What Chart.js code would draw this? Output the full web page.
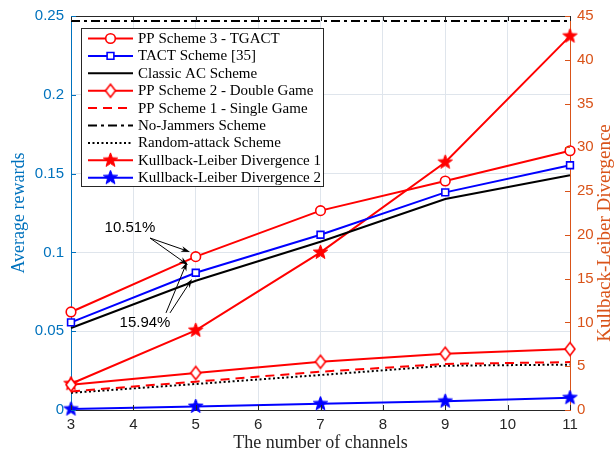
<!DOCTYPE html>
<html lang="en">
<head>
<meta charset="UTF-8">
<title>Average rewards vs number of channels</title>
<script src="https://cdn.jsdelivr.net/npm/chart.js@4.4.1/dist/chart.umd.min.js"></script>
<style>
  html, body { margin: 0; padding: 0; background: #fff; }
</style>
</head>
<body>
<canvas id="chart" width="614" height="454"></canvas>
<script>
// ---- data ----
const channels = [3, 5, 7, 9, 11];
const ppScheme3 = [0.0622, 0.0973, 0.1265, 0.1453, 0.1645];
const tactScheme = [0.0556, 0.0871, 0.1112, 0.1381, 0.1553];
const classicAC = [0.0520, 0.0820, 0.1068, 0.1339, 0.1490];
const ppScheme2 = [0.0160, 0.0235, 0.0306, 0.0357, 0.0387];
const ppScheme1 = [0.0118, 0.0180, 0.0243, 0.0292, 0.0304];
const noJammers = [0.2468, 0.2468, 0.2468, 0.2468, 0.2468];
const randomAttack = [0.0109, 0.0165, 0.0222, 0.0281, 0.0288];
const klDiv1 = [3.0, 9.1, 18.0, 28.3, 42.7];
const klDiv2 = [0.1, 0.4, 0.7, 1.0, 1.4];

const xTicks = [3, 4, 5, 6, 7, 8, 9, 10, 11];

const LEFT_COLOR = 'rgb(0,114,189)';
const RIGHT_COLOR = 'rgb(217,83,25)';
const SERIF = '"Liberation Serif", "DejaVu Serif", serif';
const SANS = '"Liberation Sans", Arial, sans-serif';

function pts(ys) {
  return channels.map((x, i) => ({ x: x, y: ys[i] }));
}

// filled pentagram marker (MATLAB 'p')
function starMarker(color, r) {
  const c = document.createElement('canvas');
  const s = Math.ceil(r * 2 + 2);
  c.width = s; c.height = s;
  const g = c.getContext('2d');
  const cx = s / 2, cy = s / 2, ri = r * 0.42;
  g.beginPath();
  for (let i = 0; i < 10; i++) {
    const rr = i % 2 === 0 ? r : ri;
    const a = -Math.PI / 2 + i * Math.PI / 5;
    const px = cx + rr * Math.cos(a), py = cy + rr * Math.sin(a);
    if (i === 0) g.moveTo(px, py); else g.lineTo(px, py);
  }
  g.closePath();
  g.fillStyle = color;
  g.fill();
  g.strokeStyle = color;
  g.lineWidth = 1;
  g.stroke();
  return c;
}

// hollow diamond marker (MATLAB 'd')
function diamondMarker(color, w, h) {
  const c = document.createElement('canvas');
  c.width = w + 4; c.height = h + 4;
  const g = c.getContext('2d');
  const cx = c.width / 2, cy = c.height / 2;
  g.beginPath();
  g.moveTo(cx, cy - h / 2);
  g.lineTo(cx + w / 2, cy);
  g.lineTo(cx, cy + h / 2);
  g.lineTo(cx - w / 2, cy);
  g.closePath();
  g.fillStyle = '#fff';
  g.fill();
  g.strokeStyle = color;
  g.lineWidth = 1.6;
  g.stroke();
  return c;
}

const redStar = starMarker('#ff0000', 7.5);
const blueStar = starMarker('#0000ff', 7.5);
const redDiamond = diamondMarker('#ff0000', 10, 13);

const base = { fill: false, tension: 0, clip: false, borderWidth: 2, pointBorderWidth: 1.6,
               pointBackgroundColor: '#fff' };

const datasets = [
  Object.assign({}, base, { label: 'PP Scheme 3 - TGACT', data: pts(ppScheme3), yAxisID: 'y',
    borderColor: '#ff0000', pointBorderColor: '#ff0000', pointStyle: 'circle', pointRadius: 4.8 }),
  Object.assign({}, base, { label: 'TACT Scheme [35]', data: pts(tactScheme), yAxisID: 'y',
    borderColor: '#0000ff', pointBorderColor: '#0000ff', pointStyle: 'rect', pointRadius: 4.8 }),
  Object.assign({}, base, { label: 'Classic AC Scheme', data: pts(classicAC), yAxisID: 'y',
    borderColor: '#000', pointRadius: 0 }),
  Object.assign({}, base, { label: 'PP Scheme 2 - Double Game', data: pts(ppScheme2), yAxisID: 'y',
    borderColor: '#ff0000', pointStyle: redDiamond, pointRadius: 6 }),
  Object.assign({}, base, { label: 'PP Scheme 1 - Single Game', data: pts(ppScheme1), yAxisID: 'y',
    borderColor: '#ff0000', borderDash: [9, 6], pointRadius: 0 }),
  Object.assign({}, base, { label: 'No-Jammers Scheme', data: pts(noJammers), yAxisID: 'y',
    borderColor: '#000', borderDash: [9, 4, 3, 4], pointRadius: 0 }),
  Object.assign({}, base, { label: 'Random-attack Scheme', data: pts(randomAttack), yAxisID: 'y',
    borderColor: '#000', borderDash: [2, 2.5], pointRadius: 0 }),
  Object.assign({}, base, { label: 'Kullback-Leiber Divergence 1', data: pts(klDiv1), yAxisID: 'y2',
    borderColor: '#ff0000', pointStyle: redStar, pointRadius: 7 }),
  Object.assign({}, base, { label: 'Kullback-Leiber Divergence 2', data: pts(klDiv2), yAxisID: 'y2',
    borderColor: '#0000ff', pointStyle: blueStar, pointRadius: 7 })
];

// arrows + percentage labels, in data coordinates of x / y
const notes = [
  { text: '10.51%', at: [3.946, 0.1155],
    arrows: [[[4.267, 0.1091], [4.908, 0.1003]], [[4.267, 0.1091], [4.876, 0.0920]]] },
  { text: '15.94%', at: [4.186, 0.0552],
    arrows: [[[4.523, 0.0616], [4.86, 0.0939]], [[4.587, 0.0616], [4.94, 0.0831]]] }
];

function arrow(ctx, x1, y1, x2, y2) {
  const a = Math.atan2(y2 - y1, x2 - x1);
  const L = 9, W = 3;
  ctx.beginPath();
  ctx.moveTo(x1, y1);
  ctx.lineTo(x2 - L * 0.7 * Math.cos(a), y2 - L * 0.7 * Math.sin(a));
  ctx.stroke();
  ctx.beginPath();
  ctx.moveTo(x2, y2);
  ctx.lineTo(x2 - L * Math.cos(a) - W * Math.sin(a), y2 - L * Math.sin(a) + W * Math.cos(a));
  ctx.lineTo(x2 - L * 0.7 * Math.cos(a), y2 - L * 0.7 * Math.sin(a));
  ctx.lineTo(x2 - L * Math.cos(a) + W * Math.sin(a), y2 - L * Math.sin(a) - W * Math.cos(a));
  ctx.closePath();
  ctx.fill();
}

const decor = {
  id: 'decor',
  afterDatasetsDraw(chart) {
    const ctx = chart.ctx;
    const a = chart.chartArea;
    const sx = chart.scales.x, sy = chart.scales.y, sy2 = chart.scales.y2;
    ctx.save();
    // top border
    ctx.strokeStyle = '#262626';
    ctx.lineWidth = 1;
    ctx.beginPath();
    ctx.moveTo(a.left, a.top + 0.5);
    ctx.lineTo(a.right, a.top + 0.5);
    ctx.stroke();
    // inward ticks
    const T = 5;
    xTicks.forEach(v => {
      const px = Math.round(sx.getPixelForValue(v)) + 0.5;
      ctx.beginPath();
      ctx.moveTo(px, a.bottom); ctx.lineTo(px, a.bottom - T);
      ctx.moveTo(px, a.top); ctx.lineTo(px, a.top + T);
      ctx.stroke();
    });
    ctx.strokeStyle = LEFT_COLOR;
    sy.ticks.forEach(t => {
      const py = Math.round(sy.getPixelForValue(t.value)) + 0.5;
      ctx.beginPath(); ctx.moveTo(a.left, py); ctx.lineTo(a.left + T, py); ctx.stroke();
    });
    ctx.strokeStyle = RIGHT_COLOR;
    sy2.ticks.forEach(t => {
      const py = Math.round(sy2.getPixelForValue(t.value)) + 0.5;
      ctx.beginPath(); ctx.moveTo(a.right, py); ctx.lineTo(a.right - T, py); ctx.stroke();
    });

    // right axis title, reading bottom to top
    ctx.save();
    ctx.translate(605, (a.top + a.bottom) / 2 + 20);
    ctx.rotate(-Math.PI / 2);
    ctx.fillStyle = RIGHT_COLOR;
    ctx.font = '19px ' + SERIF;
    ctx.textAlign = 'center';
    ctx.textBaseline = 'middle';
    ctx.fillText('Kullback-Leiber Divergence', 0, 0);
    ctx.restore();

    // annotations
    ctx.strokeStyle = '#000';
    ctx.fillStyle = '#000';
    ctx.lineWidth = 1;
    ctx.font = '15px ' + SANS;
    ctx.textAlign = 'center';
    ctx.textBaseline = 'middle';
    notes.forEach(n => {
      ctx.fillText(n.text, sx.getPixelForValue(n.at[0]), sy.getPixelForValue(n.at[1]));
      n.arrows.forEach(ar => {
        arrow(ctx, sx.getPixelForValue(ar[0][0]), sy.getPixelForValue(ar[0][1]),
                   sx.getPixelForValue(ar[1][0]), sy.getPixelForValue(ar[1][1]));
      });
    });

    // legend box
    const bx = 81, by = 28, bw = 242, bh = 158, row = 17.4;
    ctx.fillStyle = '#fff';
    ctx.fillRect(bx, by, bw, bh);
    ctx.strokeStyle = '#262626';
    ctx.lineWidth = 1;
    ctx.strokeRect(bx + 0.5, by + 0.5, bw, bh);
    ctx.font = '15px ' + SERIF;
    ctx.textAlign = 'left';
    ctx.textBaseline = 'middle';
    chart.data.datasets.forEach((ds, i) => {
      const y = by + 10.5 + i * row;
      ctx.save();
      ctx.strokeStyle = ds.borderColor;
      ctx.lineWidth = ds.borderWidth;
      ctx.setLineDash(ds.borderDash || []);
      ctx.beginPath();
      ctx.moveTo(88, y); ctx.lineTo(133, y);
      ctx.stroke();
      ctx.setLineDash([]);
      if (ds.pointRadius > 0) {
        if (ds.pointStyle instanceof HTMLCanvasElement) {
          const im = ds.pointStyle;
          ctx.drawImage(im, 110.5 - im.width / 2, y - im.height / 2);
        } else {
          ctx.strokeStyle = ds.pointBorderColor;
          ctx.fillStyle = '#fff';
          ctx.lineWidth = ds.pointBorderWidth;
          Chart.helpers.drawPoint(ctx, { pointStyle: ds.pointStyle, radius: ds.pointRadius,
            rotation: 0, borderWidth: ds.pointBorderWidth }, 110.5, y);
        }
      }
      ctx.restore();
      ctx.fillStyle = '#000';
      ctx.fillText(ds.label, 138, y + 0.5);
    });
    ctx.restore();
  }
};

const ctx = document.getElementById('chart').getContext('2d');
new Chart(ctx, {
  type: 'line',
  data: { datasets: datasets },
  options: {
    responsive: false,
    devicePixelRatio: 1,
    animation: false,
    events: [],
    layout: { padding: { top: 16, left: 0, right: 0, bottom: 0 } },
    plugins: { legend: { display: false }, tooltip: { enabled: false } },
    scales: {
      x: {
        type: 'linear', min: 3, max: 11,
        afterFit(s) { s.height = 44; },
        afterBuildTicks(s) { s.ticks = xTicks.map(v => ({ value: v })); },
        grid: { color: '#dfe5ec', drawTicks: false },
        border: { color: '#262626', width: 1 },
        ticks: { color: '#262626', font: { family: SANS, size: 15 }, padding: 6, maxRotation: 0 },
        title: { display: true, text: 'The number of channels', color: '#262626',
                 font: { family: SERIF, size: 18 }, padding: { top: 0, bottom: 0 } }
      },
      y: {
        position: 'left', min: 0, max: 0.25,
        afterFit(s) { s.width = 71; },
        grid: { color: '#dfe5ec', drawTicks: false },
        border: { color: LEFT_COLOR, width: 1 },
        ticks: { stepSize: 0.05, color: LEFT_COLOR, font: { family: SANS, size: 15 }, padding: 7,
                 callback: v => String(Math.round(v * 100) / 100) },
        title: { display: true, text: 'Average rewards', color: LEFT_COLOR,
                 font: { family: SERIF, size: 18 }, padding: { top: 8, bottom: 0 } }
      },
      y2: {
        position: 'right', min: 0, max: 45,
        afterFit(s) { s.width = 44; },
        grid: { display: false, drawTicks: false },
        border: { color: RIGHT_COLOR, width: 1 },
        ticks: { stepSize: 5, color: RIGHT_COLOR, font: { family: SANS, size: 15 }, padding: 7 }
      }
    }
  },
  plugins: [decor]
});
</script>
</body>
</html>
